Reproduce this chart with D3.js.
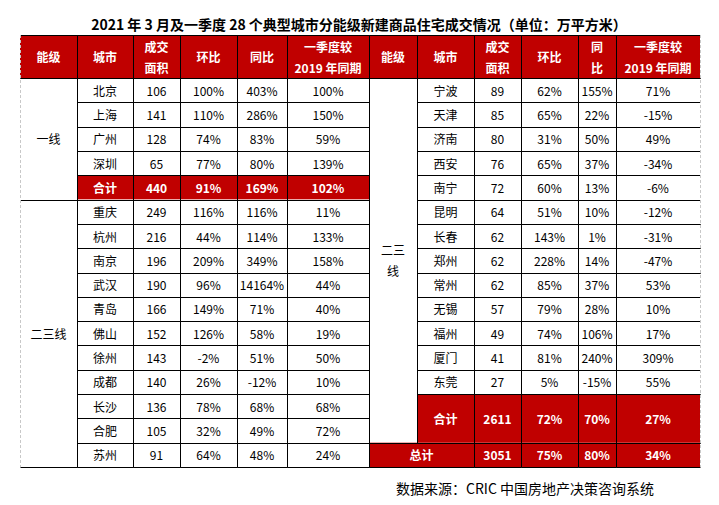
<!DOCTYPE html>
<meta charset="utf-8">
<style>
body { margin: 0; background: #fff; }
text { font-family: "Noto Sans CJK SC", "Noto Sans", sans-serif; }
</style>
<svg width="719" height="505"></svg>
<script src="https://d3js.org/d3.v7.min.js"></script>
<script>

// ---- data
var title = "2021 年 3 月及一季度 28 个典型城市分能级新建商品住宅成交情况（单位：万平方米）";
var source = "数据来源：CRIC 中国房地产决策咨询系统";

var headersLeft  = [["能级"], ["城市"], ["成交", "面积"], ["环比"], ["同比"], ["一季度较", "2019 年同期"]];
var headersRight = [["能级"], ["城市"], ["成交", "面积"], ["环比"], ["同", "比"], ["一季度较", "2019 年同期"]];

var tiers = ["一线", "二三线"];
var tierSizes = [4, 24];

var cities = ["北京", "上海", "广州", "深圳",
  "重庆", "杭州", "南京", "武汉", "青岛", "佛山", "徐州", "成都", "长沙", "合肥", "苏州",
  "宁波", "天津", "济南", "西安", "南宁", "昆明", "长春", "郑州", "常州", "无锡", "福州", "厦门", "东莞"];
var area = [106, 141, 128, 65,
  249, 216, 196, 190, 166, 152, 143, 140, 136, 105, 91,
  89, 85, 80, 76, 72, 64, 62, 62, 62, 57, 49, 41, 27];
var mom = [100, 110, 74, 77,
  116, 44, 209, 96, 149, 126, -2, 26, 78, 32, 64,
  62, 65, 31, 65, 60, 51, 143, 228, 85, 79, 74, 81, 5];
var yoy = [403, 286, 83, 80,
  116, 114, 349, 14164, 71, 58, 51, -12, 68, 49, 48,
  155, 22, 50, 37, 13, 10, 1, 14, 37, 28, 106, 240, -15];
var vs2019 = [100, 150, 59, 139,
  11, 133, 158, 44, 40, 19, 50, 10, 68, 72, 24,
  71, -15, 49, -34, -6, -12, -31, -47, 53, 10, 17, 309, 55];

var subtotalLabel = "合计";
var subtotalArea = [440, 2611];
var subtotalMom = [91, 72];
var subtotalYoy = [169, 70];
var subtotalVs2019 = [102, 27];

var totalLabel = "总计";
var totalValues = [3051, 75, 80, 34];

// ---- layout
var svg = d3.select("svg");
var red = "#c00000";
var colsL = [20, 77, 133, 180, 237, 287, 369],
    colsR = [369, 417, 474, 521, 578, 616, 700];
var headTop = 35, headBottom = 78, tableBottom = 467;
var y = d3.scaleLinear().domain([0, 16]).range([headBottom, tableBottom]);
var pct = function(d) { return d + "%"; };

var cells = [];
function cell(cols, c0, c1, r0, r1, lines, style) {
  style = style || {};
  cells.push({
    x0: cols[c0], x1: cols[c1],
    y0: r0 == null ? headTop : y(r0), y1: r1 == null ? headBottom : y(r1),
    lines: lines, fill: style.fill || "#fff", color: style.color || "#000", bold: !!style.bold
  });
}
var head = {fill: red, color: "#fff", bold: true};

// headers
headersLeft.forEach(function(h, i) { cell(colsL, i, i + 1, null, null, h, head); });
headersRight.forEach(function(h, i) { cell(colsR, i, i + 1, null, null, h, head); });

function cityRow(cols, r, i) {
  cell(cols, 1, 2, r, r + 1, [cities[i]]);
  cell(cols, 2, 3, r, r + 1, [area[i]]);
  cell(cols, 3, 4, r, r + 1, [pct(mom[i])]);
  cell(cols, 4, 5, r, r + 1, [pct(yoy[i])]);
  cell(cols, 5, 6, r, r + 1, [pct(vs2019[i])]);
}

// tier 1 (left)
cell(colsL, 0, 1, 0, 5, [tiers[0]]);
d3.range(tierSizes[0]).forEach(function(i) { cityRow(colsL, i, i); });
cell(colsL, 1, 2, 4, 5, [subtotalLabel], head);
cell(colsL, 2, 3, 4, 5, [subtotalArea[0]], head);
cell(colsL, 3, 4, 4, 5, [pct(subtotalMom[0])], head);
cell(colsL, 4, 5, 4, 5, [pct(subtotalYoy[0])], head);
cell(colsL, 5, 6, 4, 5, [pct(subtotalVs2019[0])], head);

// tier 2, left part
var leftCount = 11;
cell(colsL, 0, 1, 5, 16, [tiers[1]]);
d3.range(leftCount).forEach(function(k) { cityRow(colsL, 5 + k, tierSizes[0] + k); });

// tier 2, right part
var rightCount = tierSizes[1] - leftCount;
cell(colsR, 0, 1, 0, rightCount + 2, ["二三", "线"]);
d3.range(rightCount).forEach(function(k) { cityRow(colsR, k, tierSizes[0] + leftCount + k); });
var rs = rightCount;
cell(colsR, 1, 2, rs, rs + 2, [subtotalLabel], head);
cell(colsR, 2, 3, rs, rs + 2, [subtotalArea[1]], head);
cell(colsR, 3, 4, rs, rs + 2, [pct(subtotalMom[1])], head);
cell(colsR, 4, 5, rs, rs + 2, [pct(subtotalYoy[1])], head);
cell(colsR, 5, 6, rs, rs + 2, [pct(subtotalVs2019[1])], head);

// grand total
cell(colsR, 0, 2, rs + 2, rs + 3, [totalLabel], head);
totalValues.forEach(function(v, i) { cell(colsR, 2 + i, 3 + i, rs + 2, rs + 3, [i ? pct(v) : v], head); });

// ---- draw
var g = svg.append("g");
g.selectAll("rect.cell")
  .data(cells)
  .enter().append("rect")
    .attr("class", "cell")
    .attr("x", function(d) { return d.x0; })
    .attr("y", function(d) { return d.y0; })
    .attr("width", function(d) { return d.x1 - d.x0; })
    .attr("height", function(d) { return d.y1 - d.y0; })
    .attr("fill", function(d) { return d.fill; });

// borders (outer left/right edges are dashed)
var segs = [];
cells.forEach(function(d) {
  segs.push([d.x0, d.y0, d.x1, d.y0], [d.x0, d.y1, d.x1, d.y1]);
  if (d.x0 !== colsL[0]) segs.push([d.x0, d.y0, d.x0, d.y1]);
  if (d.x1 !== colsR[6]) segs.push([d.x1, d.y0, d.x1, d.y1]);
});
g.selectAll("line.grid")
  .data(segs)
  .enter().append("line")
    .attr("class", "grid")
    .attr("x1", function(d) { return Math.round(d[0]) + 0.5; })
    .attr("y1", function(d) { return Math.round(d[1]) + 0.5; })
    .attr("x2", function(d) { return Math.round(d[2]) + 0.5; })
    .attr("y2", function(d) { return Math.round(d[3]) + 0.5; })
    .attr("stroke", "#000")
    .attr("stroke-width", 1);

g.selectAll("line.edge")
  .data([colsL[0], colsR[6]])
  .enter().append("line")
    .attr("class", "edge")
    .attr("x1", function(d) { return d + 0.5; })
    .attr("x2", function(d) { return d + 0.5; })
    .attr("y1", headTop)
    .attr("y2", tableBottom)
    .attr("stroke", "#c8c8c8")
    .attr("stroke-dasharray", "3,2");

// cell text
var lineH = 21;
cells.forEach(function(d) {
  var cx = (d.x0 + d.x1) / 2, cy = (d.y0 + d.y1) / 2;
  var n = d.lines.length;
  d.lines.forEach(function(t, i) {
    g.append("text")
      .attr("x", cx)
      .attr("y", cy + (i - (n - 1) / 2) * lineH)
      .attr("text-anchor", "middle")
      .attr("dominant-baseline", "central")
      .attr("font-size", 12)
      .attr("font-weight", d.bold ? "bold" : "normal")
      .attr("fill", d.color)
      .text(t);
  });
});

// title & source
svg.append("text")
    .attr("x", 359)
    .attr("y", 24)
    .attr("text-anchor", "middle")
    .attr("dominant-baseline", "central")
    .attr("font-size", 14)
    .attr("font-weight", "bold")
    .text(title);

svg.append("text")
    .attr("x", 525)
    .attr("y", 488)
    .attr("text-anchor", "middle")
    .attr("dominant-baseline", "central")
    .attr("font-size", 14)
    .text(source);

</script>
